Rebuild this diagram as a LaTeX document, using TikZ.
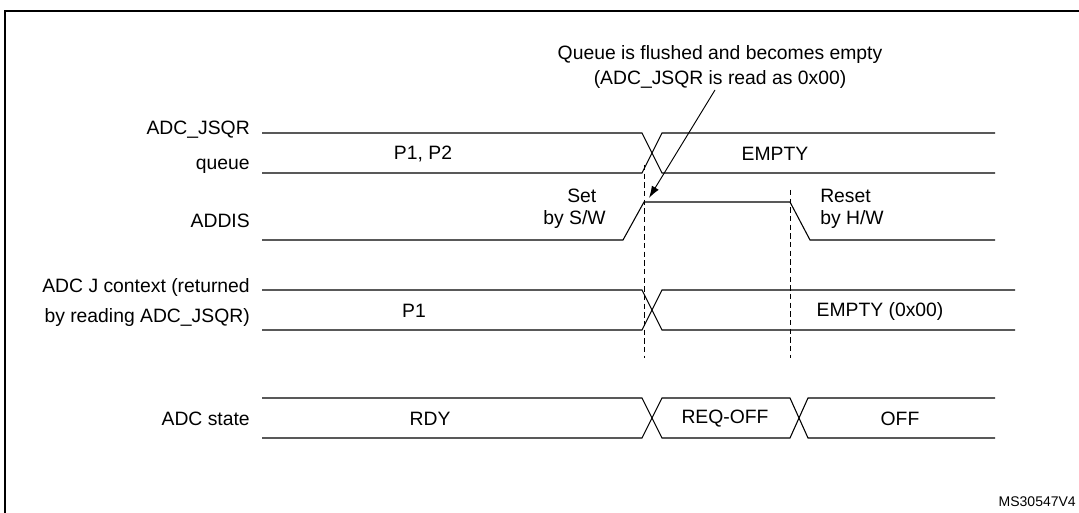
\documentclass[tikz,border=0pt]{standalone}
\usepackage{fontspec}
\setmainfont{Liberation Sans}
\usetikzlibrary{arrows.meta}
\begin{document}
\begin{tikzpicture}[x=0.75pt,y=-0.75pt,
  sig/.style={line width=0.8pt},
  lbl/.style={font=\fontsize{14.5}{17}\selectfont, inner sep=0pt},
  dsh/.style={line width=0.7pt, dash pattern=on 4pt off 2.5pt}]
\useasboundingbox (0,0) rectangle (1079,513);
\clip (0,0) rectangle (1079,513);
\draw[line width=1.6pt] (5,11) rectangle (1090,530);
% queue
\draw[sig] (262,133) -- (642,133) -- (662,173) -- (995,173);
\draw[sig] (262,173) -- (642,173) -- (662,133) -- (995,133);
% addis
\draw[sig] (262,240) -- (623,240) -- (644,202) -- (790,202) -- (810,240) -- (995,240);
% J context
\draw[sig] (262,290) -- (642,290) -- (662,330) -- (1015,330);
\draw[sig] (262,330) -- (642,330) -- (662,290) -- (1015,290);
% state
\draw[sig] (262,398) -- (642,398) -- (662,438) -- (790,438) -- (808,398) -- (995,398);
\draw[sig] (262,438) -- (642,438) -- (662,398) -- (790,398) -- (808,438) -- (995,438);
\draw[dsh] (644,165) -- (644,358);
\draw[dsh] (790,190) -- (790,358);
% labels
\node[lbl,anchor=east] (l1) at (250,130) {ADC\_JSQR};
\node[lbl,anchor=east] (l2) at (250,166) {queue};
\node[lbl,anchor=east] (l3) at (250,221) {ADDIS};
\node[lbl,anchor=east] (l4) at (250,287) {ADC J context (returned};
\node[lbl,anchor=east] (l5) at (250,318) {by reading ADC\_JSQR)};
\node[lbl,anchor=east] (l6) at (250,419) {ADC state};
\node[lbl] (p12) at (423,154) {P1, P2};
\node[lbl] (em) at (775,154) {EMPTY};
\node[lbl,anchor=west] (s1) at (567,196) {Set};
\node[lbl,anchor=east] (s2) at (606,220) {by S/W};
\node[lbl,anchor=west] (r1) at (820,196) {Reset};
\node[lbl,anchor=west] (r2) at (820,220) {by H/W};
\node[lbl] (p1) at (414,311) {P1};
\node[lbl] (e2) at (880,311) {EMPTY (0x00)};
\node[lbl] (rdy) at (430,419) {RDY};
\node[lbl] (rq) at (725,419) {REQ-OFF};
\node[lbl] (off) at (900,419) {OFF};
\node[lbl] (a1) at (720,55) {Queue is flushed and becomes empty};
\node[lbl] (a2) at (720,79) {(ADC\_JSQR is read as 0x00)};
\coordinate (t) at (649,198);
\draw[line width=0.7pt,-{Latex[length=9pt,width=6pt]}] (715,90) -- (t);
\node[font=\fontsize{10.5}{12}\selectfont, inner sep=0pt, anchor=east] (ms) at (1076,502) {MS30547V4};
\end{tikzpicture}
\end{document}
